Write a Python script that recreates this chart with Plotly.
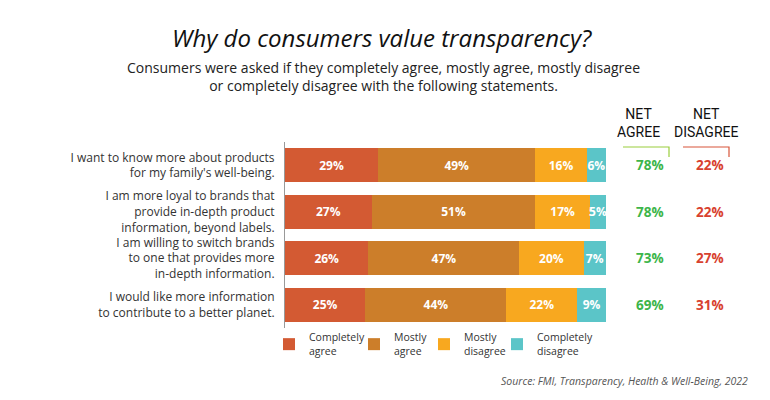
import plotly.graph_objects as go

statements = [
    "I want to know more about products<br>for my family's well-being.",
    "I am more loyal to brands that<br>provide in-depth product<br>information, beyond labels.",
    "I am willing to switch brands<br>to one that provides more<br>in-depth information.",
    "I would like more information<br>to contribute to a better planet.",
]
series_names = ["Completely<br>agree", "Mostly<br>agree", "Mostly<br>disagree", "Completely<br>disagree"]
completely_agree = [29, 27, 26, 25]
mostly_agree = [49, 51, 47, 44]
mostly_disagree = [16, 17, 20, 22]
completely_disagree = [6, 5, 7, 9]
colors = ["#D35A33", "#CC7E2A", "#F8A81F", "#5BC5C8"]

net_agree = [a + b for a, b in zip(completely_agree, mostly_agree)]
net_disagree = [a + b for a, b in zip(mostly_disagree, completely_disagree)]

FONT = "Open Sans"
HEAD_FONT = "Roboto"

# The page body adds an 8px offset; layout positions below are given in
# screen pixels and converted to figure coordinates.
OFF = 8
W, H = 770 - OFF, 400 - OFF
PL, PR, PT, PB = 285, 606, 142, 328          # plot area, screen px
ML, MR, MT, MB = PL - OFF, W - (PR - OFF), PT - OFF, H - (PB - OFF)

def px_x(x):
    return (x - PL) / (PR - PL)

def px_y(y):
    return (PB - y) / (PB - PT)

legend_ids = ["legend", "legend2", "legend3", "legend4"]
legend_sq_x = [285, 370, 440, 513]

fig = go.Figure()
for name, vals, col, lid in zip(series_names,
                                [completely_agree, mostly_agree, mostly_disagree, completely_disagree],
                                colors, legend_ids):
    fig.add_trace(go.Bar(
        y=statements, x=vals, name=name, orientation="h", legend=lid,
        marker=dict(color=col, line=dict(width=0)),
        text=[f"{v}%" for v in vals], textposition="inside", textangle=0,
        insidetextanchor="middle",
        textfont=dict(color="white", size=12, family=FONT, weight="bold"),
        hoverinfo="skip",
    ))

annotations = [
    dict(text="<i>Why do consumers value transparency?</i>", x=px_x(382), y=px_y(37),
         xanchor="center", yanchor="middle", xref="paper", yref="paper", showarrow=False,
         font=dict(size=24, family=FONT, color="#111")),
    dict(text="Consumers were asked if they completely agree, mostly agree, mostly disagree<br>or completely disagree with the following statements.",
         x=px_x(383), y=px_y(76), xanchor="center", yanchor="middle",
         xref="paper", yref="paper", showarrow=False,
         font=dict(size=14, family=FONT, color="#222")),
    dict(text="<i>Source: FMI, Transparency, Health &amp; Well-Being, 2022</i>", x=px_x(750),
         y=px_y(381), xref="paper", yref="paper", xanchor="right", yanchor="middle",
         showarrow=False, font=dict(size=10.5, family=FONT, color="#555")),
    dict(text="NET<br>AGREE", x=px_x(638), y=px_y(123), xref="paper", yref="paper",
         xanchor="center", yanchor="middle", showarrow=False, align="center",
         font=dict(size=14, family=HEAD_FONT, color="#111")),
    dict(text="NET<br>DISAGREE", x=px_x(706), y=px_y(123), xref="paper", yref="paper",
         xanchor="center", yanchor="middle", showarrow=False, align="center",
         font=dict(size=14, family=HEAD_FONT, color="#111")),
]

for i, s in enumerate(statements):
    annotations.append(dict(text=f"<b>{net_agree[i]}%</b>", x=px_x(650), y=s, xref="paper",
                            yref="y", xanchor="center", showarrow=False,
                            font=dict(size=13.5, family=FONT, color="#3DB54A")))
    annotations.append(dict(text=f"<b>{net_disagree[i]}%</b>", x=px_x(710), y=s, xref="paper",
                            yref="y", xanchor="center", showarrow=False,
                            font=dict(size=13.5, family=FONT, color="#D8412F")))

shapes = [
    dict(type="path", xref="paper", yref="paper",
         path=f"M {px_x(623)} {px_y(147)} L {px_x(669)} {px_y(147)} L {px_x(669)} {px_y(157)}",
         line=dict(color="#9ACD3C", width=1.2)),
    dict(type="path", xref="paper", yref="paper",
         path=f"M {px_x(683)} {px_y(147)} L {px_x(729)} {px_y(147)} L {px_x(729)} {px_y(157)}",
         line=dict(color="#D8553A", width=1.2)),
]

legend_layout = {}
for lid, sx in zip(legend_ids, legend_sq_x):
    legend_layout[lid] = dict(
        orientation="v", x=px_x(sx - 16), xanchor="left", y=px_y(324), yanchor="top",
        font=dict(size=10.5, family=FONT, color="#333"), bgcolor="rgba(0,0,0,0)",
        itemwidth=30)

fig.update_layout(
    width=W, height=H, barmode="stack", bargap=0.27,
    margin=dict(l=ML, r=MR, t=MT, b=MB, autoexpand=False),
    plot_bgcolor="white", paper_bgcolor="white",
    font=dict(family=FONT, color="#333"),
    xaxis=dict(range=[0, 100], visible=False, fixedrange=True, automargin=False),
    yaxis=dict(autorange="reversed", showline=True, linecolor="#999", linewidth=1,
               ticks="", showgrid=False, ticklabelstandoff=7, automargin=False,
               tickfont=dict(size=12, family=FONT, color="#333")),
    uniformtext=dict(minsize=12, mode="show"),
    annotations=annotations, shapes=shapes,
    showlegend=True,
    **legend_layout,
)

fig.write_html("out.html")
